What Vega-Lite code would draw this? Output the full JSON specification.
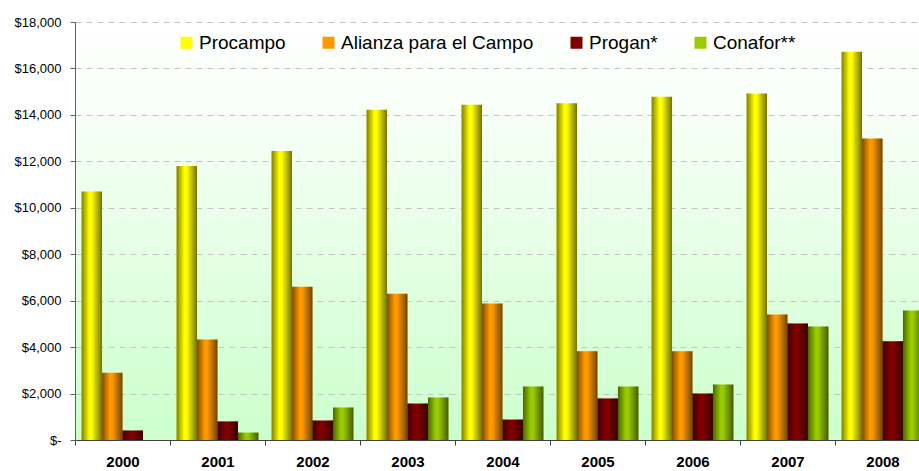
{
  "$schema": "https://vega.github.io/schema/vega-lite/v6.json",
  "width": 844,
  "height": 418,
  "autosize": {"type": "none"},
  "padding": {"left": 75, "top": 22, "right": 0, "bottom": 31},
  "background": "white",
  "config": {
    "font": "Liberation Sans",
    "view": {
      "stroke": null,
      "fill": {
        "gradient": "linear", "x1": 0, "y1": 0, "x2": 0, "y2": 1,
        "stops": [
          {"offset": 0, "color": "#ffffff"},
          {"offset": 0.2, "color": "#f8fff8"},
          {"offset": 1, "color": "#ccffcc"}
        ]
      }
    }
  },
  "data": {
    "values": [
      {"year": "2000", "program": "Procampo", "value": 10700},
      {"year": "2001", "program": "Procampo", "value": 11800},
      {"year": "2002", "program": "Procampo", "value": 12450},
      {"year": "2003", "program": "Procampo", "value": 14220},
      {"year": "2004", "program": "Procampo", "value": 14440},
      {"year": "2005", "program": "Procampo", "value": 14500},
      {"year": "2006", "program": "Procampo", "value": 14780},
      {"year": "2007", "program": "Procampo", "value": 14920},
      {"year": "2008", "program": "Procampo", "value": 16720},
      {"year": "2000", "program": "Alianza para el Campo", "value": 2900},
      {"year": "2001", "program": "Alianza para el Campo", "value": 4330},
      {"year": "2002", "program": "Alianza para el Campo", "value": 6600},
      {"year": "2003", "program": "Alianza para el Campo", "value": 6300},
      {"year": "2004", "program": "Alianza para el Campo", "value": 5880},
      {"year": "2005", "program": "Alianza para el Campo", "value": 3820},
      {"year": "2006", "program": "Alianza para el Campo", "value": 3820},
      {"year": "2007", "program": "Alianza para el Campo", "value": 5400},
      {"year": "2008", "program": "Alianza para el Campo", "value": 12980},
      {"year": "2000", "program": "Progan*", "value": 410},
      {"year": "2001", "program": "Progan*", "value": 800},
      {"year": "2002", "program": "Progan*", "value": 840},
      {"year": "2003", "program": "Progan*", "value": 1570},
      {"year": "2004", "program": "Progan*", "value": 880},
      {"year": "2005", "program": "Progan*", "value": 1790},
      {"year": "2006", "program": "Progan*", "value": 2000},
      {"year": "2007", "program": "Progan*", "value": 5020},
      {"year": "2008", "program": "Progan*", "value": 4250},
      {"year": "2001", "program": "Conafor**", "value": 320},
      {"year": "2002", "program": "Conafor**", "value": 1400},
      {"year": "2003", "program": "Conafor**", "value": 1830},
      {"year": "2004", "program": "Conafor**", "value": 2300},
      {"year": "2005", "program": "Conafor**", "value": 2300},
      {"year": "2006", "program": "Conafor**", "value": 2390},
      {"year": "2007", "program": "Conafor**", "value": 4890},
      {"year": "2008", "program": "Conafor**", "value": 5580}
    ]
  },
  "encoding": {
    "x": {
      "field": "year", "type": "nominal",
      "scale": {"range": [0, 855], "paddingInner": 0, "paddingOuter": 0},
      "axis": {
        "title": null, "labelAngle": 0, "labelFontSize": 15, "labelFontWeight": "bold",
        "labelColor": "#000000", "tickBand": "extent", "tickSize": 5, "tickColor": "#404040",
        "domainColor": "#404040", "labelPadding": 9, "grid": false
      }
    },
    "xOffset": {
      "field": "program", "type": "nominal",
      "sort": ["Procampo", "Alianza para el Campo", "Progan*", "Conafor**"],
      "scale": {"domain": ["Procampo", "Alianza para el Campo", "Progan*", "Conafor**"], "paddingInner": 0, "paddingOuter": 0.32}
    },
    "y": {
      "field": "value", "type": "quantitative",
      "scale": {"domain": [0, 18000], "nice": false},
      "axis": {
        "title": null,
        "values": [0, 2000, 4000, 6000, 8000, 10000, 12000, 14000, 16000, 18000],
        "labelExpr": "datum.value == 0 ? '$-' : '$' + format(datum.value, ',')",
        "labelFontSize": 13, "labelColor": "#000000", "tickSize": 5, "tickColor": "#606060",
        "domainColor": "#606060", "labelPadding": 9,
        "grid": true, "gridDash": [6, 5], "gridColor": "#c4c4c4"
      }
    }
  },
  "layer": [
    {
      "mark": {"type": "bar"},
      "encoding": {
        "color": {
          "field": "program", "type": "nominal",
          "sort": ["Procampo", "Alianza para el Campo", "Progan*", "Conafor**"],
          "scale": {
            "domain": ["Procampo", "Alianza para el Campo", "Progan*", "Conafor**"],
            "range": ["#ffff00", "#ff9900", "#800000", "#99cc00"]
          },
          "legend": {
            "orient": "none", "legendX": 102, "legendY": 11, "direction": "horizontal",
            "title": null, "symbolType": "square", "symbolSize": 144, "symbolStrokeWidth": 0,
            "labelFontSize": 19, "labelColor": "#000000", "labelOffset": 3, "labelLimit": 0,
            "columnPadding": 33, "padding": 0
          }
        }
      }
    },
    {
      "mark": {
        "type": "bar",
        "fill": {
          "gradient": "linear", "x1": 0, "y1": 0, "x2": 1, "y2": 0,
          "stops": [
            {"offset": 0, "color": "rgba(0,0,0,0.5)"},
            {"offset": 0.38, "color": "rgba(0,0,0,0)"},
            {"offset": 0.5, "color": "rgba(0,0,0,0)"},
            {"offset": 1, "color": "rgba(0,0,0,0.55)"}
          ]
        }
      },
      "encoding": {}
    }
  ]
}
